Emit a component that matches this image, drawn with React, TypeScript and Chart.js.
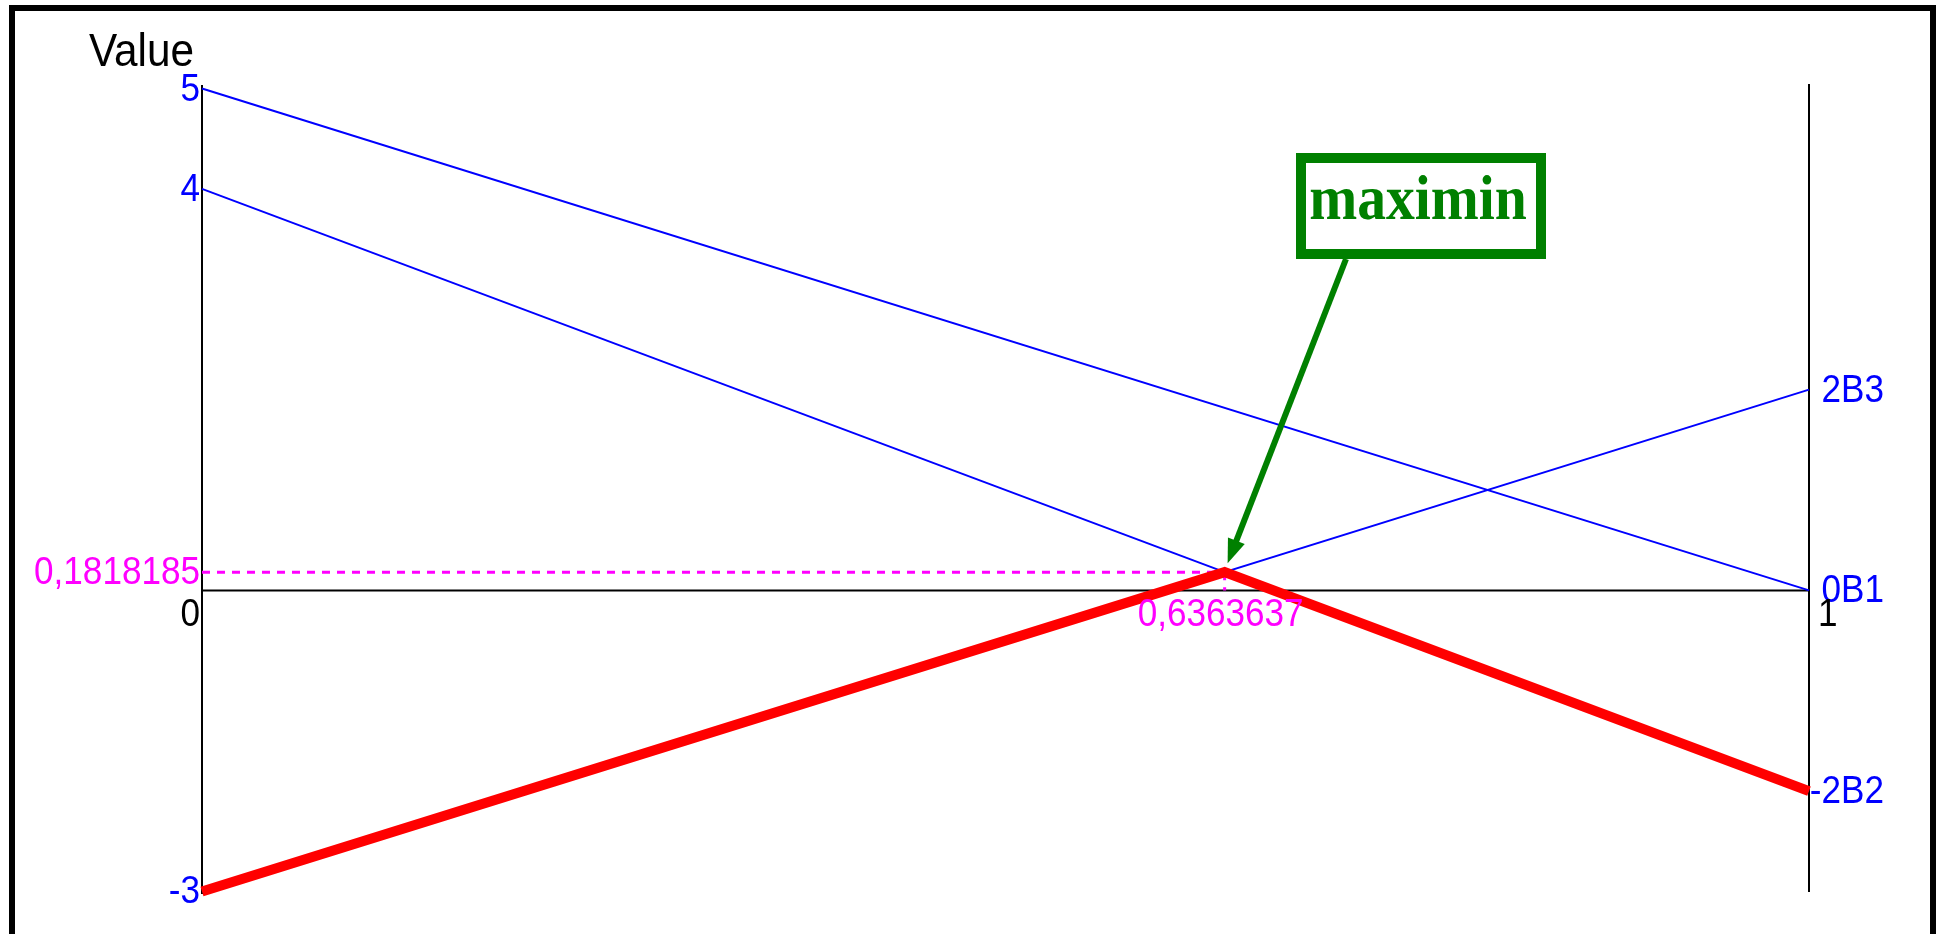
import React, { useEffect, useRef } from 'react';
import { Chart, registerables } from 'chart.js';

Chart.register(...registerables);

// Payoff of each pure strategy of player B as a function of p (0 … 1)
const strategyNames = ['B1', 'B2', 'B3'];
const valuesAtZero = [5, 4, -3];
const valuesAtOne = [0, -2, 2];

// Lower envelope of the strategy lines and its highest point
const maximinP = [0, 0.6363637, 1];
const maximinValue = [-3, 0.1818185, -2];

// Axis texts
const axisXLabels = ['0', '1'];
const axisYLabel = '0';
const axisYTitle = 'Value';
const calloutText = 'maximin';

const W = 1939;
const H = 934;
const SANS = '"Liberation Sans", Arial, sans-serif';
const SERIF = '"Liberation Serif", "Times New Roman", serif';
const BLUE = '#0000ff';
const MAGENTA = '#ff00ff';
const GREEN = '#008000';

const fmt = (v: number) => String(v).replace('.', ',');

function drawText(
  ctx: CanvasRenderingContext2D,
  text: string,
  x: number,
  y: number,
  size: number,
  color: string,
  align: CanvasTextAlign,
  sx = 0.9,
  family = SANS,
  weight = 'normal'
) {
  ctx.save();
  ctx.translate(x, y);
  ctx.scale(sx, 1);
  ctx.font = `${weight} ${size}px ${family}`;
  ctx.fillStyle = color;
  ctx.textAlign = align;
  ctx.textBaseline = 'alphabetic';
  ctx.fillText(text, 0, 0);
  ctx.restore();
}

const decorPlugin = {
  id: 'decor',
  beforeDraw(chart: any) {
    const ctx: CanvasRenderingContext2D = chart.ctx;
    ctx.save();
    ctx.fillStyle = '#ffffff';
    ctx.fillRect(0, 0, W, H);
    // outer frame
    ctx.strokeStyle = '#000000';
    ctx.lineWidth = 6;
    ctx.strokeRect(12, 8, 1921, 960);
    ctx.restore();
  },
  beforeDatasetsDraw(chart: any) {
    const ctx: CanvasRenderingContext2D = chart.ctx;
    const xs = chart.scales.x;
    const ys = chart.scales.y;
    const { top, bottom } = chart.chartArea;
    const x0 = xs.getPixelForValue(0);
    const x1 = xs.getPixelForValue(1);
    const y0 = ys.getPixelForValue(0);

    ctx.save();
    ctx.strokeStyle = '#000000';
    ctx.lineWidth = 2;
    ctx.beginPath();
    ctx.moveTo(x0, top + 1);
    ctx.lineTo(x0, bottom);
    ctx.moveTo(x1, top);
    ctx.lineTo(x1, bottom - 2);
    ctx.moveTo(x0, y0);
    ctx.lineTo(x1, y0);
    ctx.stroke();

    // guide lines to the maximin point
    const px = xs.getPixelForValue(maximinP[1]);
    const py = ys.getPixelForValue(maximinValue[1]);
    ctx.strokeStyle = MAGENTA;
    ctx.lineWidth = 3;
    ctx.setLineDash([8, 7]);
    ctx.beginPath();
    ctx.moveTo(x0, py);
    ctx.lineTo(px, py);
    ctx.moveTo(px, py);
    ctx.lineTo(px, y0);
    ctx.stroke();
    ctx.restore();
  },
  afterDatasetsDraw(chart: any) {
    const ctx: CanvasRenderingContext2D = chart.ctx;
    const xs = chart.scales.x;
    const ys = chart.scales.y;
    const { top } = chart.chartArea;
    const x0 = xs.getPixelForValue(0);
    const x1 = xs.getPixelForValue(1);
    const y0 = ys.getPixelForValue(0);
    const px = xs.getPixelForValue(maximinP[1]);
    const py = ys.getPixelForValue(maximinValue[1]);
    const FS = 39;

    // values of the strategy lines at both ends
    strategyNames.forEach((name, i) => {
      drawText(ctx, String(valuesAtZero[i]), x0 - 2, ys.getPixelForValue(valuesAtZero[i]) + 12, FS, BLUE, 'right');
      drawText(ctx, `${valuesAtOne[i]}${name}`, x1 + 75, ys.getPixelForValue(valuesAtOne[i]) + 12, FS, BLUE, 'right');
    });

    // axis labels
    drawText(ctx, axisYLabel, x0 - 2, y0 + 36, FS, '#000000', 'right');
    drawText(ctx, axisXLabels[1], x1 + 9, y0 + 36, FS, '#000000', 'left');
    drawText(ctx, axisYTitle, x0 - 113, top - 18, 46, '#000000', 'left', 0.92);

    // coordinates of the maximin point
    drawText(ctx, fmt(maximinValue[1]), x0 - 2, py + 12, FS, MAGENTA, 'right');
    drawText(ctx, fmt(maximinP[1]), px - 4, y0 + 36, FS, MAGENTA, 'center');

    // callout box with arrow
    ctx.save();
    ctx.strokeStyle = GREEN;
    ctx.lineWidth = 10;
    ctx.strokeRect(1301, 158, 240, 96);
    ctx.restore();
    drawText(ctx, calloutText, 1418, 219, 64, GREEN, 'center', 0.9, SERIF, 'bold');

    const sx = 1346;
    const sy = 259;
    const tx = px + 3;
    const ty = py - 9;
    const dx = tx - sx;
    const dy = ty - sy;
    const len = Math.hypot(dx, dy);
    const ux = dx / len;
    const uy = dy / len;
    const head = 24;
    const half = 9;
    const bx = tx - ux * head;
    const by = ty - uy * head;
    ctx.save();
    ctx.strokeStyle = GREEN;
    ctx.fillStyle = GREEN;
    ctx.lineWidth = 6;
    ctx.beginPath();
    ctx.moveTo(sx, sy);
    ctx.lineTo(bx + ux * 2, by + uy * 2);
    ctx.stroke();
    ctx.beginPath();
    ctx.moveTo(tx, ty);
    ctx.lineTo(bx - uy * half, by + ux * half);
    ctx.lineTo(bx + uy * half, by - ux * half);
    ctx.closePath();
    ctx.fill();
    ctx.restore();
  },
};

export default function App() {
  const canvasRef = useRef<HTMLCanvasElement | null>(null);

  useEffect(() => {
    const canvas = canvasRef.current;
    if (!canvas) return;

    const envelope = {
      label: calloutText,
      data: maximinP.map((p, i) => ({ x: p, y: maximinValue[i] })),
      borderColor: '#ff0000',
      borderWidth: 10,
      borderJoinStyle: 'miter' as const,
      borderCapStyle: 'butt' as const,
      pointRadius: 0,
      tension: 0,
      clip: false as any,
    };
    const strategyLines = strategyNames.map((name, i) => ({
      label: name,
      data: [
        { x: 0, y: valuesAtZero[i] },
        { x: 1, y: valuesAtOne[i] },
      ],
      borderColor: BLUE,
      borderWidth: 2,
      pointRadius: 0,
      tension: 0,
      clip: false as any,
    }));

    const chart = new Chart(canvas, {
      type: 'line',
      data: { datasets: [envelope, ...strategyLines] as any },
      options: {
        animation: false,
        responsive: false,
        devicePixelRatio: 1,
        layout: { padding: { left: 202, right: 130, top: 84, bottom: 40 } },
        plugins: { legend: { display: false }, tooltip: { enabled: false } },
        scales: {
          x: { type: 'linear', min: 0, max: 1, display: false },
          y: { type: 'linear', min: -3.025, max: 5.045, display: false },
        },
      },
      plugins: [decorPlugin],
    });

    return () => chart.destroy();
  }, []);

  return (
    <div style={{ position: 'fixed', left: 0, top: 0, width: W, height: H, background: '#fff' }}>
      <canvas ref={canvasRef} width={W} height={H} style={{ display: 'block', width: W, height: H }} />
    </div>
  );
}
